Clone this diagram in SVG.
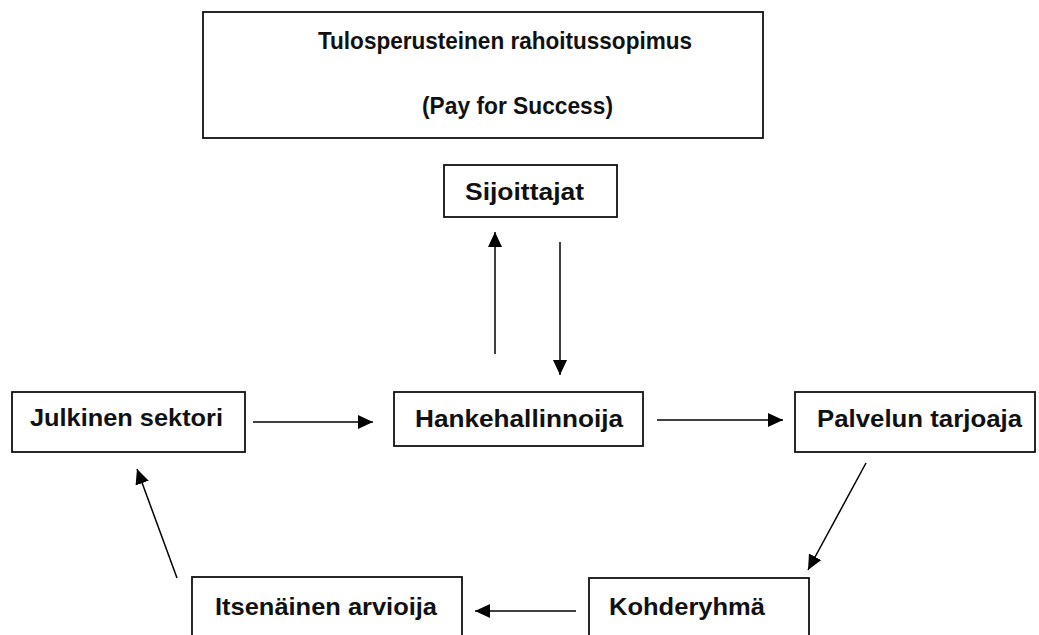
<svg xmlns="http://www.w3.org/2000/svg" width="1039" height="635" viewBox="0 0 1039 635">
<style>
.box{fill:#fff;stroke:#111;stroke-width:1.8}
.lbl{font-family:"Liberation Sans",Arial,sans-serif;font-weight:bold;font-size:24px;fill:#111;text-anchor:middle}
.con{stroke:#000;stroke-width:1.5;fill:none;marker-end:url(#ah)}
</style>
<defs>
<marker id="ah" markerUnits="userSpaceOnUse" markerWidth="16" markerHeight="14" refX="15" refY="7" orient="auto">
<path d="M0,0 L15,7 L0,14 z" fill="#000"/>
</marker>
</defs>
<rect width="1039" height="635" fill="#fff"/>
<g id="title">
<rect class="box" x="203" y="12" width="560" height="126"/>
<text class="lbl" x="505" y="49" textLength="374" lengthAdjust="spacingAndGlyphs">Tulosperusteinen rahoitussopimus</text>
<text class="lbl" x="517.5" y="114" textLength="191" lengthAdjust="spacingAndGlyphs">(Pay for Success)</text>
</g>
<g id="sijoittajat">
<rect class="box" x="444" y="165" width="173" height="52"/>
<text class="lbl" x="524.5" y="200" textLength="119" lengthAdjust="spacingAndGlyphs">Sijoittajat</text>
</g>
<g id="julkinen">
<rect class="box" x="12" y="392" width="233" height="60"/>
<text class="lbl" x="126.5" y="426" textLength="193" lengthAdjust="spacingAndGlyphs">Julkinen sektori</text>
</g>
<g id="hanke">
<rect class="box" x="394" y="392" width="249" height="54"/>
<text class="lbl" x="519" y="427" textLength="208" lengthAdjust="spacingAndGlyphs">Hankehallinnoija</text>
</g>
<g id="palvelu">
<rect class="box" x="795" y="392" width="240" height="60"/>
<text class="lbl" x="919.5" y="427" textLength="205" lengthAdjust="spacingAndGlyphs">Palvelun tarjoaja</text>
</g>
<g id="arvioija">
<rect class="box" x="192" y="577" width="270" height="80"/>
<text class="lbl" x="326" y="615" textLength="222" lengthAdjust="spacingAndGlyphs">Itsenäinen arvioija</text>
</g>
<g id="kohde">
<rect class="box" x="589" y="578" width="220" height="80"/>
<text class="lbl" x="687" y="615" textLength="156" lengthAdjust="spacingAndGlyphs">Kohderyhmä</text>
</g>
<g id="connectors">
<line class="con" x1="495" y1="354" x2="495" y2="232"/>
<line class="con" x1="560" y1="242" x2="560" y2="375"/>
<line class="con" x1="253" y1="422" x2="373" y2="422"/>
<line class="con" x1="657" y1="420" x2="783" y2="420"/>
<line class="con" x1="866" y1="463" x2="808" y2="570"/>
<line class="con" x1="576" y1="611" x2="475" y2="611"/>
<line class="con" x1="177" y1="578" x2="137" y2="469"/>
</g>
</svg>
